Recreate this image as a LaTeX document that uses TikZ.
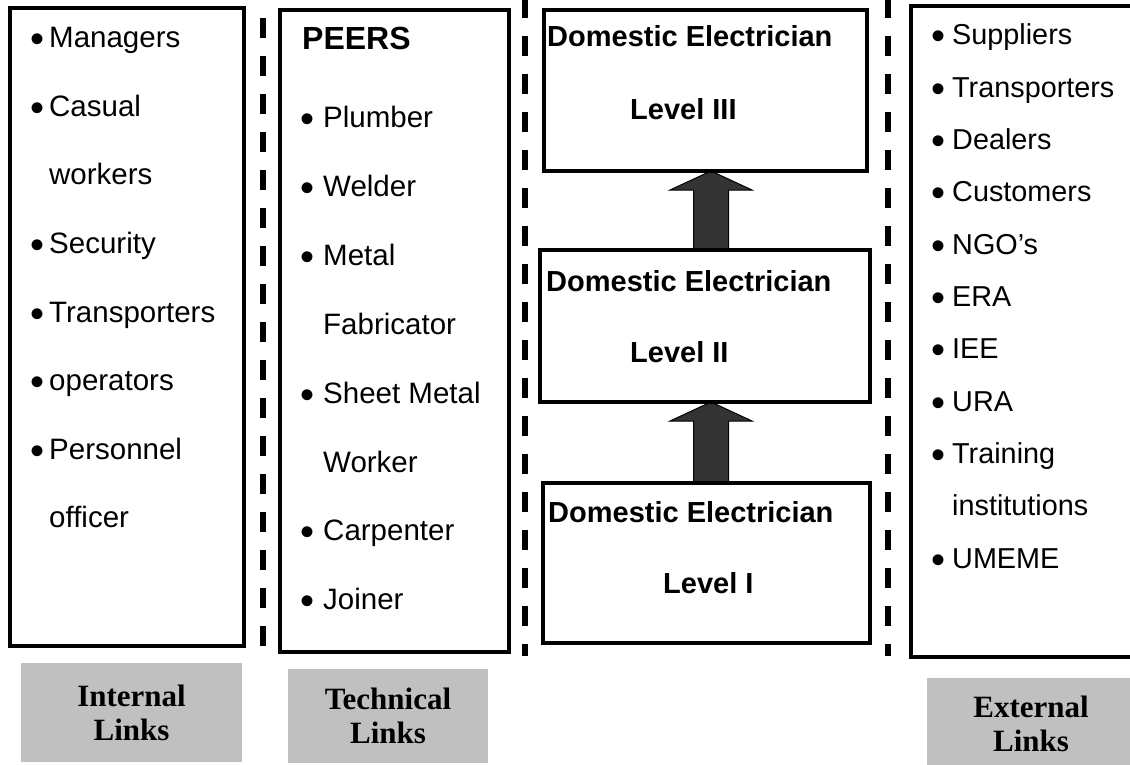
\documentclass[tikz,border=0pt]{standalone}
\usepackage{fontspec}
\setmainfont{Liberation Sans}
\newfontfamily\tnrfont{Liberation Serif}
\usetikzlibrary{calc}
\definecolor{labelgray}{HTML}{C0C0C0}
\definecolor{arrowgray}{HTML}{333333}
\newcommand\myb[1][8pt]{\llap{\raisebox{-5pt}{\fontsize{40}{40}\selectfont\textbullet}\hspace{#1}}}
\begin{document}
\begin{tikzpicture}[x=1pt,y=-1pt,
  boxst/.style={draw, line width=4pt, rectangle, inner sep=0pt, outer sep=0pt, anchor=north west},
  item/.style={anchor=base west, inner sep=0pt, font=\fontsize{29.5}{29.5}\selectfont},
  extitem/.style={anchor=base west, inner sep=0pt, font=\fontsize{28.8}{28.8}\selectfont},
  lvl/.style={anchor=base west, inner sep=0pt, font=\fontsize{29}{29}\selectfont\bfseries},
  divider/.style={line width=6pt, dash pattern=on 20pt off 18pt},
  glabel/.style={fill=labelgray, inner sep=0pt, outer sep=0pt, anchor=north west, align=center,
    font=\tnrfont\bfseries\fontsize{31}{34}\selectfont},
  bigarrow/.style={fill=arrowgray, draw=black, line width=1pt}]
\useasboundingbox (0,0) rectangle (1130,765);

% dividers
\draw[divider] (263,18) -- (263,648);
\draw[divider] (525,-2) -- (525,656);
\draw[divider] (888,-2) -- (888,656);

% boxes
\node[boxst, minimum width=234, minimum height=638] (b1) at (10,8) {};
\node[boxst, minimum width=229, minimum height=642] (b2) at (280,10) {};
\node[boxst, minimum width=323, minimum height=161] (b3) at (544,10) {};
\node[boxst, minimum width=330, minimum height=152] (b4) at (540,250) {};
\node[boxst, minimum width=327, minimum height=160] (b5) at (543,483) {};
\node[boxst, minimum width=240, minimum height=651] (b6) at (911,6) {};

% arrows
\coordinate (ax) at (711,0);
\draw[bigarrow] (b3.south -| ax) -- ++(41,19) -- ++(-23.5,0)
  -- ($(b4.north -| ax)+(17.5,0)$) -- ++(-35,0)
  -- ($(b3.south -| ax)+(-17.5,19)$) -- ++(-23.5,0) -- cycle;
\draw[bigarrow] (b4.south -| ax) -- ++(41,19) -- ++(-23.5,0)
  -- ($(b5.north -| ax)+(17.5,0)$) -- ++(-35,0)
  -- ($(b4.south -| ax)+(-17.5,19)$) -- ++(-23.5,0) -- cycle;
% redraw box borders over arrow ends
\draw[line width=4pt] (b3.south west) -- (b3.south east);
\draw[line width=4pt] (b4.north west) -- (b4.north east);
\draw[line width=4pt] (b4.south west) -- (b4.south east);
\draw[line width=4pt] (b5.north west) -- (b5.north east);

% internal box items
\node[item] (i1) at (49,48) {\myb[5pt]Managers};
\node[item] (i2) at (49,116.5) {\myb[5pt]Casual};
\node[item] (i3) at (49,185) {workers};
\node[item] (i4) at (49,253.5) {\myb[5pt]Security};
\node[item] (i5) at (49,322) {\myb[5pt]Transporters};
\node[item] (i6) at (49,390.5) {\myb[5pt]operators};
\node[item] (i7) at (49,459) {\myb[5pt]Personnel};
\node[item] (i8) at (49,527.5) {officer};

% peers box
\node[item, font=\fontsize{32}{32}\selectfont\bfseries] (p0) at (302,50) {PEERS};
\node[item] (p1) at (323,128) {\myb[9pt]Plumber};
\node[item] (p2) at (323,196.8) {\myb[9pt]Welder};
\node[item] (p3) at (323,265.6) {\myb[9pt]Metal};
\node[item] (p4) at (323,334.4) {Fabricator};
\node[item] (p5) at (323,403.2) {\myb[9pt]Sheet Metal};
\node[item] (p6) at (323,472) {Worker};
\node[item] (p7) at (323,540.8) {\myb[9pt]Carpenter};
\node[item] (p8) at (323,609.6) {\myb[9pt]Joiner};

% level boxes
\node[lvl] (l3a) at (547,47) {Domestic Electrician};
\node[lvl] (l3b) at (630,120) {Level III};
\node[lvl] (l2a) at (546,291) {Domestic Electrician};
\node[lvl] (l2b) at (630,362) {Level II};
\node[lvl] (l1a) at (548,522) {Domestic Electrician};
\node[lvl] (l1b) at (663,593) {Level I};

% external box items
\node[extitem] (e1) at (952,45) {\myb[7pt]Suppliers};
\node[extitem] (e2) at (952,97.3) {\myb[7pt]Transporters};
\node[extitem] (e3) at (952,149.6) {\myb[7pt]Dealers};
\node[extitem] (e4) at (952,201.9) {\myb[7pt]Customers};
\node[extitem] (e5) at (952,254.2) {\myb[7pt]NGO’s};
\node[extitem] (e6) at (952,306.5) {\myb[7pt]ERA};
\node[extitem] (e7) at (952,358.8) {\myb[7pt]IEE};
\node[extitem] (e8) at (952,411.1) {\myb[7pt]URA};
\node[extitem] (e9) at (952,463.4) {\myb[7pt]Training};
\node[extitem] (e10) at (952,515.7) {institutions};
\node[extitem] (e11) at (952,568) {\myb[7pt]UMEME};

% gray labels
\node[glabel, minimum width=221, minimum height=99] (g1) at (21,663) {Internal\\Links};
\node[glabel, minimum width=200, minimum height=94] (g2) at (288,669) {Technical\\Links};
\node[glabel, minimum width=208, minimum height=92] (g3) at (927,678) {External\\Links};
\end{tikzpicture}
\end{document}
